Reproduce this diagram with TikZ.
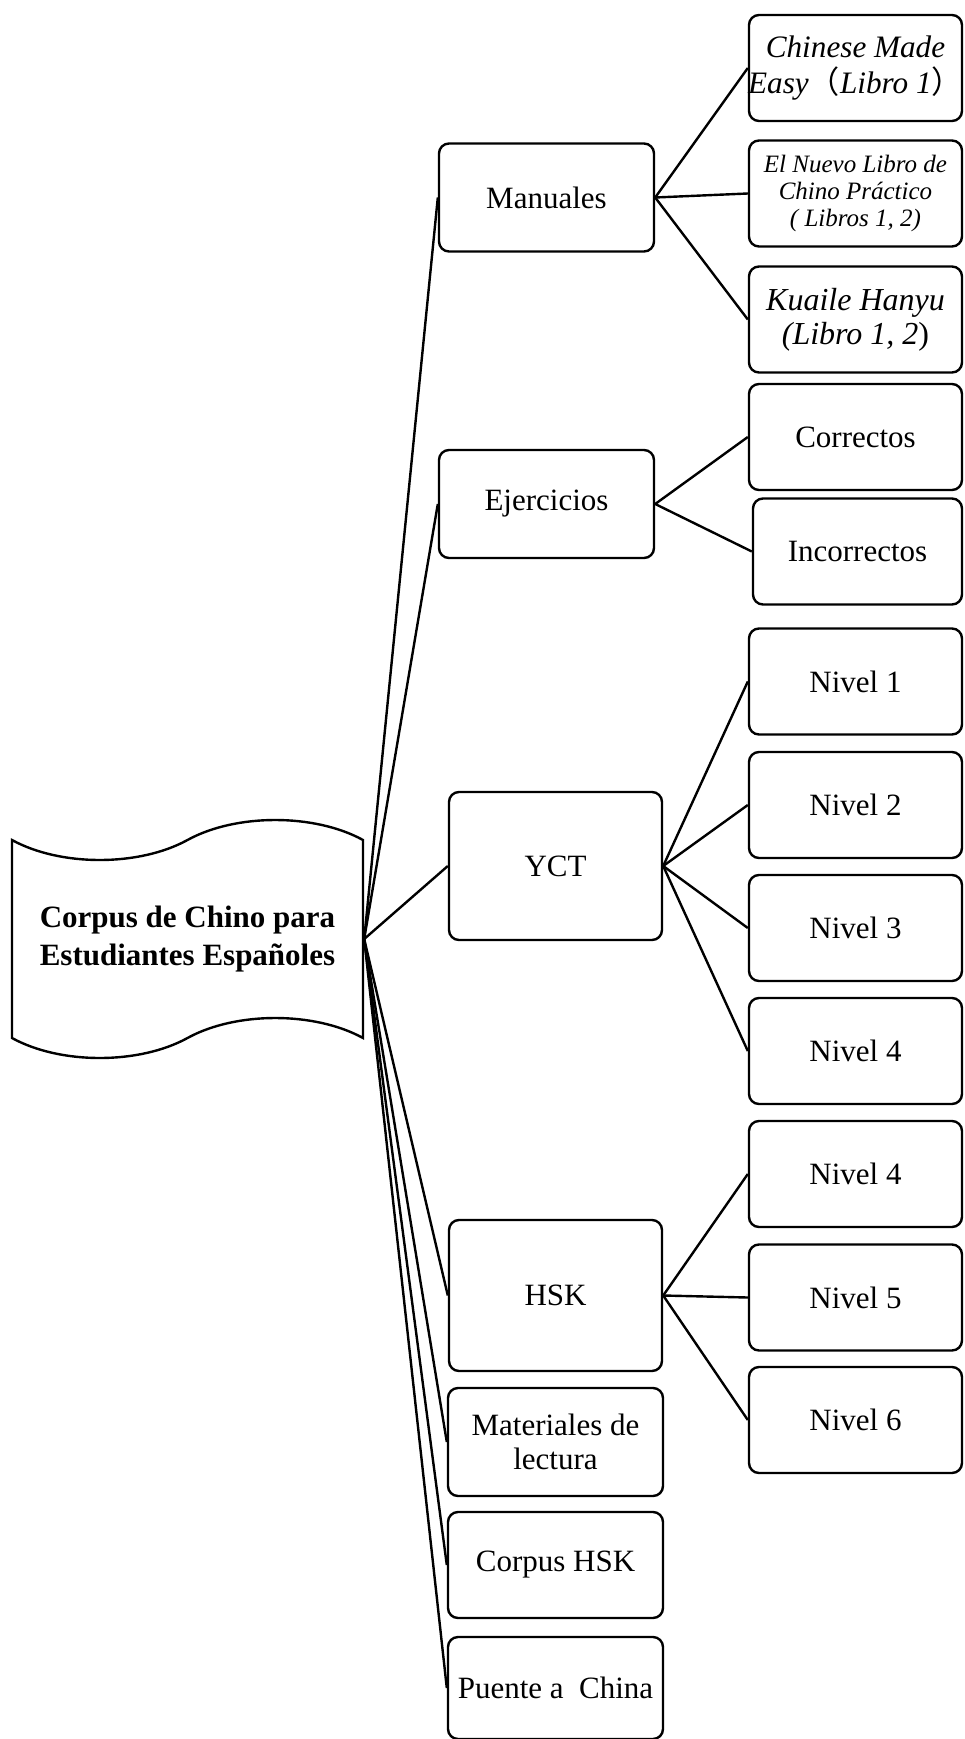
\documentclass[tikz,border=0pt]{standalone}
\usepackage{fontspec}
\setmainfont{Liberation Serif}
\newfontfamily\cjk{Noto Sans CJK SC}
\usetikzlibrary{shapes.symbols}

\begin{document}
\begin{tikzpicture}[x=0.5pt,y=-0.5pt,line width=1.2pt,
  font=\fontsize{15.5}{17}\selectfont,
  box/.style={draw,rounded corners=5pt,minimum width=106.5pt,minimum height=53pt,align=center,inner sep=1pt},
  parent/.style={box,minimum width=107.5pt,minimum height=54pt}]
  \useasboundingbox (0,0) rectangle (964,1739);
  % raiz
  \node[draw,tape,tape bend top=in and out,tape bend bottom=in and out,tape bend height=20pt,
    minimum width=175.5pt,minimum height=119pt,align=center,inner sep=0pt,
    font=\fontsize{15.5}{19}\selectfont\bfseries] (root) at (187.5,939)
    {Corpus de Chino para\\Estudiantes Españoles};
  % primer nivel
  \node[parent] (man) at (546.5,197.5) {Manuales};
  \node[parent] (eje) at (546.5,504) {Ejercicios};
  \node[parent,minimum width=106.5pt,minimum height=74pt] (yct) at (555.5,866) {YCT};
  \node[parent,minimum width=106.5pt,minimum height=75.5pt] (hsk) at (555.5,1295.5) {HSK};
  \node[parent] (mat) at (555.5,1442) {Materiales de\\lectura};
  \node[parent,minimum height=53pt] (chsk) at (555.5,1565) {Corpus HSK};
  \node[parent,minimum height=51pt] (pue) at (555.5,1688) {Puente a\ \ China};
  % segundo nivel
  \node[box,font=\fontsize{15.6}{18}\selectfont] (cme) at (855.5,68)
    {\textit{Chinese Made}\\\makebox[104pt][c]{\textit{Easy}{\cjk （}\textit{Libro 1}{\cjk ）}}};
  \node[box,font=\fontsize{12.5}{13.7}\selectfont\itshape] (enl) at (855.5,193.5)
    {El Nuevo Libro de\\Chino Práctico\\( Libros 1, 2)};
  \node[box,font=\fontsize{16}{17}\selectfont] (kua) at (855.5,319.5)
    {\textit{Kuaile Hanyu}\\\textit{(Libro 1, 2}\/)};
  \node[box] (cor) at (855.5,437) {Correctos};
  \node[box,minimum width=104.5pt] (inc) at (857.5,551.5) {Incorrectos};
  \node[box] (ya) at (855.5,681.5) {Nivel 1};
  \node[box] (yb) at (855.5,805) {Nivel 2};
  \node[box] (yc) at (855.5,928) {Nivel 3};
  \node[box] (yd) at (855.5,1051) {Nivel 4};
  \node[box] (ha) at (855.5,1174) {Nivel 4};
  \node[box] (hb) at (855.5,1297.5) {Nivel 5};
  \node[box] (hc) at (855.5,1420) {Nivel 6};
  % conexiones
  \foreach \n in {man,eje,yct,hsk,mat,chsk,pue}
    \draw (root.east) -- (\n.west);
  \foreach \n in {cme,enl,kua}
    \draw (man.east) -- (\n.west);
  \foreach \n in {cor,inc}
    \draw (eje.east) -- (\n.west);
  \foreach \n in {ya,yb,yc,yd}
    \draw (yct.east) -- (\n.west);
  \foreach \n in {ha,hb,hc}
    \draw (hsk.east) -- (\n.west);
\end{tikzpicture}
\end{document}
